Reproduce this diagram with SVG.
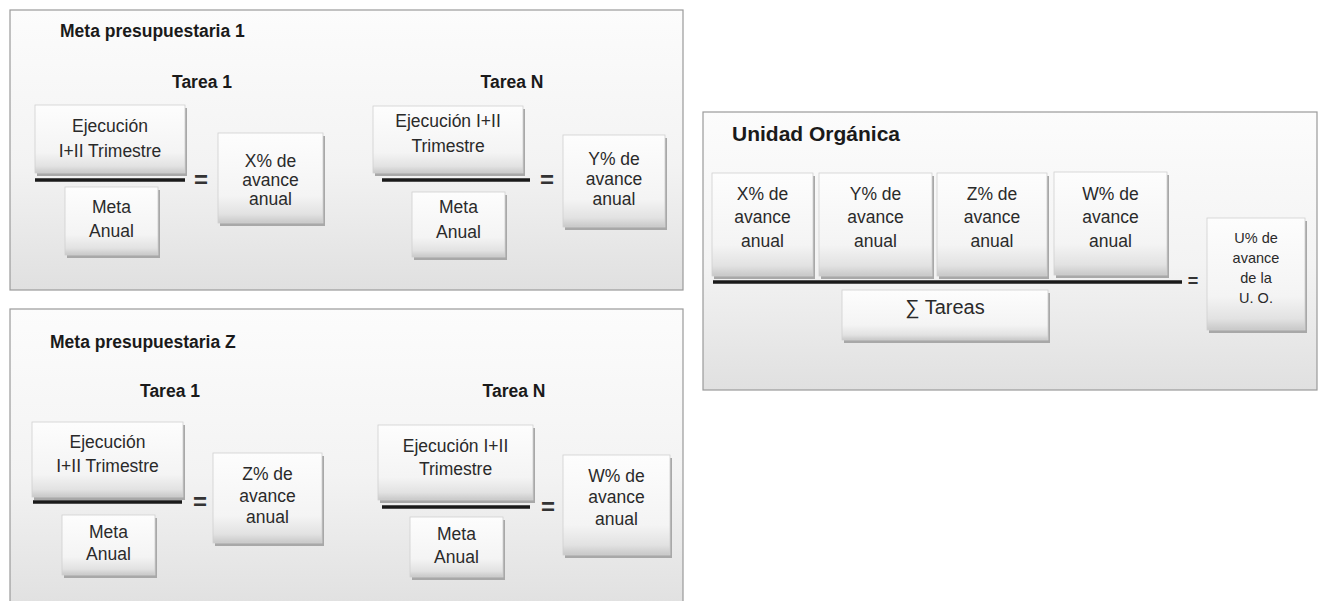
<svg xmlns="http://www.w3.org/2000/svg" width="1324" height="601" viewBox="0 0 1324 601">
<defs>
<linearGradient id="gPanel" x1="0" y1="0" x2="0" y2="1">
<stop offset="0" stop-color="#fcfcfc"/>
<stop offset="0.55" stop-color="#f3f3f3"/>
<stop offset="1" stop-color="#e0e0e0"/>
</linearGradient>
<linearGradient id="gBox" x1="0" y1="0" x2="0" y2="1">
<stop offset="0" stop-color="#fdfdfd"/>
<stop offset="0.7" stop-color="#f4f4f4"/>
<stop offset="0.9" stop-color="#e2e2e2"/>
<stop offset="1" stop-color="#c8c8c8"/>
</linearGradient>
<style>
.panel{fill:url(#gPanel);stroke:#9a9a9a;stroke-width:1.2}
.sh{fill:#a8a8a8}
.bx{fill:url(#gBox);stroke:#d0d0d0;stroke-width:0.8}
.t{font-family:"Liberation Sans",Arial,sans-serif;font-size:17.5px;fill:#2a2a2a;text-anchor:middle}
.ts{font-family:"Liberation Sans",Arial,sans-serif;font-size:14.5px;fill:#2a2a2a;text-anchor:middle}
.h{font-family:"Liberation Sans",Arial,sans-serif;font-size:17.5px;font-weight:bold;fill:#1a1a1a}
.hc{font-family:"Liberation Sans",Arial,sans-serif;font-size:17.5px;font-weight:bold;fill:#1a1a1a;text-anchor:middle}
.eq{font-family:"Liberation Sans",Arial,sans-serif;font-size:24px;font-weight:bold;fill:#333;text-anchor:middle}
.ln{stroke:#1a1a1a;stroke-width:3.5}
</style>
</defs>

<g id="panel-meta1">
<rect class="panel" x="10" y="10" width="673" height="280"/>
<text class="h" x="60" y="37">Meta presupuestaria 1</text>
<text class="hc" x="202" y="88">Tarea  1</text>
<text class="hc" x="512" y="88">Tarea N</text>
</g>
<g id="panel-metaZ">
<rect class="panel" x="10" y="309" width="673" height="300"/>
<text class="h" x="50" y="348">Meta presupuestaria Z</text>
<text class="hc" x="170" y="397">Tarea  1</text>
<text class="hc" x="514" y="397">Tarea N</text>
</g>
<g id="panel-uo">
<rect class="panel" x="703" y="112" width="614" height="278"/>
<text class="h" x="732" y="141" style="font-size:21px">Unidad Orgánica</text>
</g>

<!-- Meta 1 Tarea 1 -->
<g id="m1t1-ejec">
<rect class="sh" x="37" y="108" width="150" height="68"/>
<rect class="bx" x="35" y="105" width="150" height="68"/>
<text class="t" x="110" y="132">Ejecución</text>
<text class="t" x="110" y="157">I+II Trimestre</text>
</g>
<g id="m1t1-meta">
<rect class="sh" x="67" y="190" width="93" height="68"/>
<rect class="bx" x="65" y="187" width="93" height="68"/>
<text class="t" x="111.5" y="213">Meta</text>
<text class="t" x="111.5" y="237">Anual</text>
</g>
<g id="m1t1-res">
<rect class="sh" x="220" y="136" width="105" height="90"/>
<rect class="bx" x="218" y="133" width="105" height="90"/>
<text class="t" x="270.5" y="167">X% de</text>
<text class="t" x="270.5" y="186">avance</text>
<text class="t" x="270.5" y="205">anual</text>
</g>
<!-- Meta 1 Tarea N -->
<g id="m1tn-ejec">
<rect class="sh" x="375" y="109" width="150" height="67"/>
<rect class="bx" x="373" y="106" width="150" height="67"/>
<text class="t" x="448" y="127">Ejecución I+II</text>
<text class="t" x="448" y="152">Trimestre</text>
</g>
<g id="m1tn-meta">
<rect class="sh" x="414" y="195" width="93" height="65"/>
<rect class="bx" x="412" y="192" width="93" height="65"/>
<text class="t" x="458.5" y="213">Meta</text>
<text class="t" x="458.5" y="238">Anual</text>
</g>
<g id="m1tn-res">
<rect class="sh" x="565" y="138" width="102" height="92"/>
<rect class="bx" x="563" y="135" width="102" height="92"/>
<text class="t" x="614" y="165">Y% de</text>
<text class="t" x="614" y="185">avance</text>
<text class="t" x="614" y="205">anual</text>
</g>

<!-- Meta Z Tarea 1 -->
<g id="mzt1-ejec">
<rect class="sh" x="34" y="425" width="151" height="75"/>
<rect class="bx" x="32" y="422" width="151" height="75"/>
<text class="t" x="107.5" y="448">Ejecución</text>
<text class="t" x="107.5" y="472">I+II Trimestre</text>
</g>
<g id="mzt1-meta">
<rect class="sh" x="64" y="518" width="93" height="60"/>
<rect class="bx" x="62" y="515" width="93" height="60"/>
<text class="t" x="108.5" y="538">Meta</text>
<text class="t" x="108.5" y="560">Anual</text>
</g>
<g id="mzt1-res">
<rect class="sh" x="215" y="456" width="109" height="90"/>
<rect class="bx" x="213" y="453" width="109" height="90"/>
<text class="t" x="267.5" y="480">Z% de</text>
<text class="t" x="267.5" y="502">avance</text>
<text class="t" x="267.5" y="523">anual</text>
</g>
<!-- Meta Z Tarea N -->
<g id="mztn-ejec">
<rect class="sh" x="380" y="428" width="155" height="75"/>
<rect class="bx" x="378" y="425" width="155" height="75"/>
<text class="t" x="455.5" y="452">Ejecución I+II</text>
<text class="t" x="455.5" y="475">Trimestre</text>
</g>
<g id="mztn-meta">
<rect class="sh" x="412" y="520" width="93" height="60"/>
<rect class="bx" x="410" y="517" width="93" height="60"/>
<text class="t" x="456.5" y="540">Meta</text>
<text class="t" x="456.5" y="563">Anual</text>
</g>
<g id="mztn-res">
<rect class="sh" x="565" y="458" width="107" height="100"/>
<rect class="bx" x="563" y="455" width="107" height="100"/>
<text class="t" x="616.5" y="482">W% de</text>
<text class="t" x="616.5" y="503">avance</text>
<text class="t" x="616.5" y="525">anual</text>
</g>

<!-- Unidad Organica -->
<g id="uo-x">
<rect class="sh" x="714" y="176" width="101" height="103"/>
<rect class="bx" x="712" y="173" width="101" height="103"/>
<text class="t" x="762.5" y="200">X% de</text>
<text class="t" x="762.5" y="223">avance</text>
<text class="t" x="762.5" y="247">anual</text>
</g>
<g id="uo-y">
<rect class="sh" x="821" y="176" width="113" height="103"/>
<rect class="bx" x="819" y="173" width="113" height="103"/>
<text class="t" x="875.5" y="200">Y% de</text>
<text class="t" x="875.5" y="223">avance</text>
<text class="t" x="875.5" y="247">anual</text>
</g>
<g id="uo-z">
<rect class="sh" x="939" y="176" width="110" height="103"/>
<rect class="bx" x="937" y="173" width="110" height="103"/>
<text class="t" x="992" y="200">Z% de</text>
<text class="t" x="992" y="223">avance</text>
<text class="t" x="992" y="247">anual</text>
</g>
<g id="uo-w">
<rect class="sh" x="1056" y="175" width="113" height="103"/>
<rect class="bx" x="1054" y="172" width="113" height="103"/>
<text class="t" x="1110.5" y="200">W% de</text>
<text class="t" x="1110.5" y="223">avance</text>
<text class="t" x="1110.5" y="247">anual</text>
</g>
<g id="uo-sum">
<rect class="sh" x="844" y="293" width="206" height="50"/>
<rect class="bx" x="842" y="290" width="206" height="50"/>
<text class="t" x="945" y="314" style="font-size:20px">∑ Tareas</text>
</g>
<g id="uo-res">
<rect class="sh" x="1209" y="221" width="98" height="112"/>
<rect class="bx" x="1207" y="218" width="98" height="112"/>
<text class="ts" x="1256" y="243">U% de</text>
<text class="ts" x="1256" y="263">avance</text>
<text class="ts" x="1256" y="283">de la</text>
<text class="ts" x="1256" y="303">U. O.</text>
</g>

<g id="connectors">
<line class="ln" x1="35" y1="180" x2="185" y2="180"/>
<line class="ln" x1="382" y1="180" x2="530" y2="180"/>
<line class="ln" x1="33" y1="502" x2="182" y2="502"/>
<line class="ln" x1="382" y1="507" x2="530" y2="507"/>
<line class="ln" x1="713" y1="282" x2="1182" y2="282"/>
<text class="eq" x="201" y="188">=</text>
<text class="eq" x="547" y="188">=</text>
<text class="eq" x="200" y="510">=</text>
<text class="eq" x="548" y="515">=</text>
<text class="eq" x="1193" y="287" style="font-size:18px">=</text>
</g>
</svg>
